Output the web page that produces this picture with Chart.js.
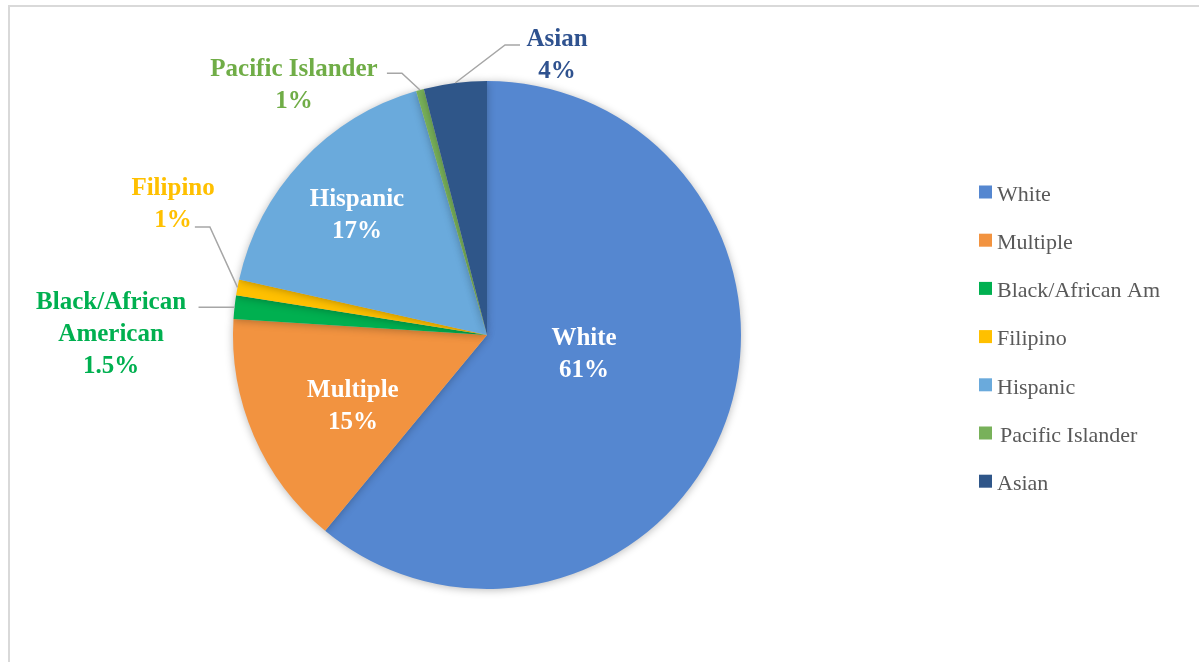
<!DOCTYPE html>
<html>
<head>
<meta charset="utf-8">
<script src="https://cdn.jsdelivr.net/npm/chart.js@4.4.1/dist/chart.umd.min.js"></script>
<style>
  html, body { margin: 0; padding: 0; background: #fff; overflow: hidden; }
  #frame {
    position: absolute; left: 8px; top: 5px; width: 1199px; height: 662px;
    border-top: 2px solid #d9d9d9; border-left: 2px solid #d9d9d9;
  }
  #wrap { position: absolute; left: 0; top: 0; width: 1199px; height: 662px; }
</style>
</head>
<body>
<div id="frame"></div>
<div id="wrap"><canvas id="pieChart"></canvas></div>
<script>
// datos del gráfico
const groups = ['White', 'Multiple', 'Black/African Am', 'Filipino', 'Hispanic', 'Pacific Islander', 'Asian'];
const shares = [61, 15, 1.5, 1, 17, 0.5, 4];
const shareLabels = ['61%', '15%', '1.5%', '1%', '17%', '1%', '4%'];
const labelNames = [['White'], ['Multiple'], ['Black/African', 'American'], ['Filipino'], ['Hispanic'], ['Pacific Islander'], ['Asian']];
const sliceColors = ['#5587d0', '#f29340', '#00b050', '#ffc000', '#6aaadc', '#78b15a', '#2f5689'];
const textColors = ['#ffffff', '#ffffff', '#00b050', '#ffc000', '#ffffff', '#70ad47', '#2f528f'];

const FONT = '"Liberation Serif", "DejaVu Serif", serif';

// posición de etiquetas, en unidades del radio respecto al centro
const labelLayout = [
  { inside: true, x: 0.382, y: 0.075 },
  { inside: true, x: -0.528, y: 0.28 },
  { inside: false, elbow: null, endDx: -36, x: -1.48, y: 0.0 },
  { inside: false, elbow: [-1.091, -0.425], endDx: -15, x: -1.236, y: -0.512 },
  { inside: true, x: -0.512, y: -0.472 },
  { inside: false, elbow: [-0.335, -1.031], endDx: -15, x: -0.76, y: -0.984 },
  { inside: false, elbow: [0.071, -1.142], endDx: 15, x: 0.276, y: -1.102 }
];

// sombra suave del pastel
const shadowPlugin = {
  id: 'pieShadow',
  beforeDatasetsDraw(chart) {
    const ctx = chart.ctx;
    ctx.save();
    ctx.shadowColor = 'rgba(0,0,0,0.28)';
    ctx.shadowBlur = 9;
    ctx.shadowOffsetX = 0;
    ctx.shadowOffsetY = 1;
  },
  afterDatasetsDraw(chart) {
    chart.ctx.restore();
  }
};

// etiquetas de datos con líneas guía
const labelPlugin = {
  id: 'sliceLabels',
  afterDraw(chart) {
    const ctx = chart.ctx;
    const arcs = chart.getDatasetMeta(0).data;
    ctx.save();
    arcs.forEach((arc, i) => {
      const { x: cx, y: cy, outerRadius: R, startAngle, endAngle } = arc.getProps(['x', 'y', 'outerRadius', 'startAngle', 'endAngle'], true);
      const lay = labelLayout[i];
      const lines = labelNames[i].concat([shareLabels[i]]);
      const tx = cx + lay.x * R;
      const ty = cy + lay.y * R;
      const lh = 32;

      if (!lay.inside) {
        const mid = (startAngle + endAngle) / 2;
        const px = cx + Math.cos(mid) * R;
        const py = cy + Math.sin(mid) * R;
        ctx.strokeStyle = '#a6a6a6';
        ctx.lineWidth = 1.5;
        ctx.beginPath();
        ctx.moveTo(px, py);
        let ex = px, ey = py;
        if (lay.elbow) {
          ex = cx + lay.elbow[0] * R;
          ey = cy + lay.elbow[1] * R;
          ctx.lineTo(ex, ey);
        }
        ctx.lineTo(ex + lay.endDx, ey);
        ctx.stroke();
      }

      ctx.fillStyle = textColors[i];
      ctx.font = 'bold 25px ' + FONT;
      ctx.textAlign = 'center';
      ctx.textBaseline = 'middle';
      const top = ty - (lines.length - 1) * lh / 2;
      lines.forEach((t, k) => ctx.fillText(t, tx, top + k * lh));
    });
    ctx.restore();
  }
};

// leyenda a la derecha
const legendPlugin = {
  id: 'sideLegend',
  afterDraw(chart) {
    const ctx = chart.ctx;
    const x0 = 979, y0 = 194, gap = 48.2, box = 13;
    ctx.save();
    ctx.font = '22px ' + FONT;
    ctx.textAlign = 'left';
    ctx.textBaseline = 'middle';
    groups.forEach((g, i) => {
      const y = y0 + i * gap;
      ctx.fillStyle = sliceColors[i];
      ctx.fillRect(x0, y - box / 2 - 2, box, box);
      ctx.fillStyle = '#595959';
      ctx.fillText(g, x0 + 18 + (i === 5 ? 3 : 0), y + 1);
    });
    ctx.restore();
  }
};

const ctx = document.getElementById('pieChart').getContext('2d');
new Chart(ctx, {
  type: 'pie',
  data: {
    labels: groups,
    datasets: [{
      data: shares,
      backgroundColor: sliceColors,
      borderWidth: 0
    }]
  },
  options: {
    responsive: true,
    maintainAspectRatio: false,
    animation: false,
    layout: { padding: { left: 233, right: 458, top: 81, bottom: 73 } },
    plugins: {
      legend: { display: false },
      tooltip: { enabled: false }
    }
  },
  plugins: [shadowPlugin, labelPlugin, legendPlugin]
});
</script>
</body>
</html>
